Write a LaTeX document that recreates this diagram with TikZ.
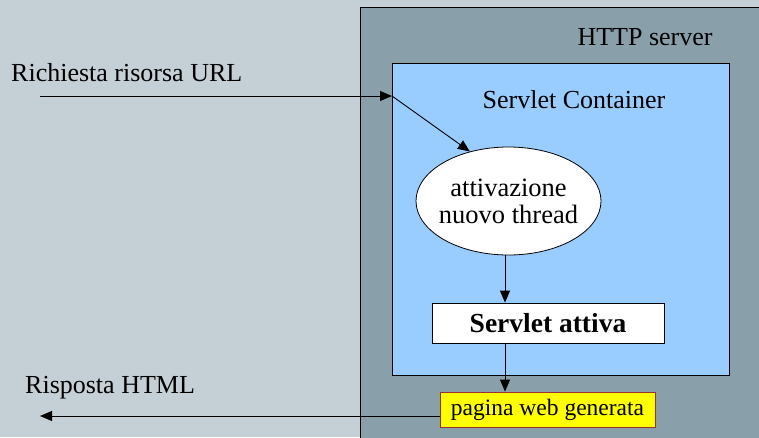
\documentclass[tikz,border=0pt]{standalone}
\usepackage{fontspec}
\setmainfont{Liberation Serif}
\usetikzlibrary{arrows.meta,shapes.geometric}
\definecolor{bgc}{HTML}{C5D0D6}
\definecolor{srvc}{HTML}{89A0AB}
\definecolor{contc}{HTML}{99CCFF}
\definecolor{yelc}{HTML}{FFFF00}
\definecolor{redc}{HTML}{993333}
\tikzset{
  lbl/.style={inner sep=0pt, font=\fontsize{26}{30}\selectfont},
  conn/.style={draw=black, line width=0.9pt, -{Triangle[length=12pt,width=10pt]}},
}
\begin{document}
\begin{tikzpicture}[x=1pt,y=-1pt]
\useasboundingbox (0,0) rectangle (759,437);
\fill[bgc] (0,0) rectangle (759,437);
% HTTP server
\draw[fill=srvc, line width=0.8pt] (360,450) -- (360,7) -- (770,7) -- (770,450);
\node[lbl] (http) at (645,37) {HTTP server};
% Servlet container
\draw[fill=contc, line width=0.8pt] (392,63) rectangle (729,375);
\node[lbl] (cont) at (574,100) {Servlet Container};
% ellipse
\node[ellipse, draw, fill=white, line width=0.8pt, minimum width=185pt, minimum height=108pt, inner xsep=-10pt, inner ysep=-6pt, align=center, font=\fontsize{26.5}{27}\selectfont] (ell) at (508.5,201) {attivazione\\nuovo thread};
% servlet attiva
\node[draw, fill=white, line width=0.8pt, minimum width=232pt, minimum height=40pt, inner sep=0pt, font=\fontsize{27.5}{30}\selectfont\bfseries] (sa) at (548,323) {Servlet attiva};
% pagina
\node[draw=redc, fill=yelc, line width=0.8pt, minimum width=215pt, minimum height=35pt, inner sep=0pt, font=\fontsize{23.5}{27}\selectfont] (pg) at (547.5,409.5) {pagina web generata};
% texts
\node[lbl, anchor=west] (req) at (11,73) {Richiesta risorsa URL};
\node[lbl, anchor=west] (resp) at (25,388) {Risposta HTML};
% coordinates
\coordinate (in0) at (40,96);
\coordinate (in1) at (392,96);
\coordinate (out1) at (40,416);
\coordinate (ellb) at (505,255);
% connectors
\draw[conn] (in0) -- (in1);
\draw[conn] (in1) -- (ell.128);
\draw[conn] (ellb) -- (sa.north -| ellb);
\draw[conn] (sa.south -| ellb) -- (pg.north -| ellb);
\draw[conn] (pg.west |- out1) -- (out1);
\end{tikzpicture}
\end{document}
